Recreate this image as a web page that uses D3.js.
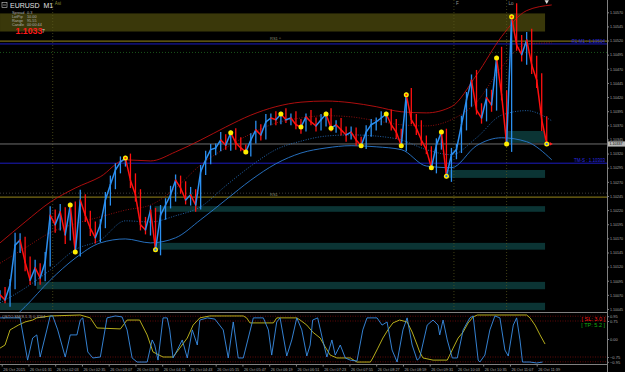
<!DOCTYPE html>
<html>
<head>
<meta charset="utf-8">
<script src="https://cdn.jsdelivr.net/npm/d3@7"></script>
<style>
html, body { margin: 0; padding: 0; background: #000; }
svg { display: block; font-family: "Liberation Sans", Arial, sans-serif; }
</style>
</head>
<body>
<div id="chart"></div>
<script>
// EURUSD M1, 26 Oct 2015 - times are minutes since midnight
var priceStart = 57, priceStep = 6;
var closes = [1.10070,1.10061,1.10088,1.10158,1.10167,1.10128,1.10096,1.10118,1.10100,1.10128,
  1.10211,1.10194,1.10217,1.10176,1.10229,1.10146,1.10238,1.10211,1.10188,1.10171,
  1.10194,1.10238,1.10265,1.10291,1.10305,1.10312,1.10273,1.10247,1.10194,1.10185,
  1.10220,1.10150,1.10211,1.10229,1.10247,1.10273,1.10259,1.10238,1.10247,1.10229,
  1.10288,1.10309,1.10327,1.10330,1.10344,1.10335,1.10357,1.10339,1.10330,1.10323,
  1.10344,1.10362,1.10353,1.10376,1.10383,1.10380,1.10390,1.10380,1.10383,1.10371,
  1.10367,1.10385,1.10376,1.10369,1.10380,1.10390,1.10365,1.10371,1.10362,1.10353,
  1.10358,1.10344,1.10334,1.10358,1.10371,1.10376,1.10383,1.10390,1.10371,1.10358,
  1.10334,1.10424,1.10380,1.10365,1.10344,1.10327,1.10295,1.10335,1.10358,1.10280,
  1.10318,1.10327,1.10371,1.10415,1.10450,1.10397,1.10383,1.10419,1.10406,1.10489,
  1.10424,1.10337,1.10562,1.10512,1.10495,1.10521,1.10477,1.10450,1.10380,1.10337];
// wick extension above / below each bar, in points (0.00001)
var wickUp = [8,14,10,22,12,6,10,14,8,18, 16,10,14,8,4,6,18,10,8,12, 10,14,16,12,10,4,8,12,10,14,
  8,4,18,12,16,10,8,12,14,10, 12,16,10,8,14,10,4,8,10,6, 12,16,10,14,8,12,4,10,8,12,
  10,6,12,8,10,4,10,8,12,6, 10,8,6,12,10,8,12,4,8,10, 6,4,12,10,14,8,6,12,4,6,
  12,10,16,14,10,18,12,16,14,4, 20,8,4,24,18,14,20,16,12,6];
var wickDown = [10,6,12,8,14,16,8,10,12,6, 8,14,10,16,10,4,8,12,14,10, 8,6,10,8,6,8,14,12,10,8,
  10,4,10,8,6,12,10,8,10,12, 8,6,8,10,6,8,10,12,6,4, 8,6,10,8,6,10,8,6,10,8,
  12,8,6,10,8,12,6,8,10,12, 8,10,4,6,8,10,6,8,10,12, 4,10,8,12,10,8,4,10,8,4,
  10,8,6,10,12,8,10,6,12,10, 10,4,14,10,12,18,16,14,20,4];

// zigzag swing points (index into closes)
var zigzag = [14,15,25,31,46,49,56,60,65,66,72,77,80,81,86,88,89,99,101,102,109];
var zigzagMajor = [25,31,81,89,102,109];

// envelope bands
var bandStart = 57, bandStep = 30;
var bandUpper = [1.10162,1.10199,1.10234,1.10259,1.10279,1.10309,1.10307,1.10323,1.10344,1.10367,1.10388,1.10403,
  1.10411,1.10413,1.10410,1.10403,1.10394,1.10392,1.10403,1.10459,1.10527,1.10573,1.10583];
var bandUpperMid = [1.10126,1.10153,1.10180,1.10196,1.10208,1.10220,1.10229,1.10259,1.10300,1.10330,1.10355,1.10374,
  1.10383,1.10387,1.10385,1.10378,1.10371,1.10369,1.10380,1.10411,1.10473,1.10514,1.10516];
var bandLowerMid = [1.10056,1.10082,1.10114,1.10150,1.10167,1.10201,1.10199,1.10210,1.10226,1.10263,1.10298,1.10327,
  1.10342,1.10351,1.10353,1.10351,1.10344,1.10327,1.10318,1.10348,1.10388,1.10396,1.10378];
var bandLower = [1.10008,1.10049,1.10096,1.10135,1.10162,1.10169,1.10162,1.10171,1.10203,1.10238,1.10273,1.10302,
  1.10321,1.10330,1.10334,1.10332,1.10327,1.10298,1.10295,1.10334,1.10348,1.10341,1.10309];

// oscillator [time, value]
var oscBlue = [[57,0.88],[69,0.88],[81,0.88],[90,-0.88],[96,0.04],[101,0.17],[105,-0.75],[113,0.38],[117,0.96],[120,0.96],
  [126,0.38],[135,-0.75],[141,0.17],[149,0.17],[153,0.79],[156,0.88],[162,-0.54],[168,-0.79],[177,-0.75],[185,0.88],
  [195,0.96],[203,0.92],[209,0.38],[215,-0.79],[221,-0.96],[233,-0.96],[239,-0.04],[242,-0.25],[246,-0.88],[252,0.88],
  [257,0.88],[260,0.38],[264,-0.79],[269,-0.46],[275,-0.04],[281,-0.79],[287,0.38],[293,-0.25],[296,0.79],[305,0.88],
  [314,0.83],[324,0.38],[330,-0.79],[336,0.71],[342,-0.79],[348,-0.79],[360,0.88],[372,0.88],[378,0.38],[382,-0.67],
  [388,0.71],[392,0.88],[400,-0.71],[406,-0.04],[412,0.88],[418,0.38],[424,-0.71],[428,-0.25],[431,0.79],[437,0.88],
  [443,-0.04],[448,-0.75],[454,-0.04],[458,-0.67],[464,-0.25],[470,-0.79],[476,-0.88],[484,-0.92],[491,0.38],[496,0.88],
  [508,0.88],[514,0.58],[520,0.71],[526,-0.46],[532,-0.96],[539,0.38],[544,0.88],[550,-0.25],[556,-0.88],[559,-0.79],
  [568,0.58],[575,0.79],[581,0.58],[583,0.17],[587,0.79],[592,-0.04],[598,-0.79],[604,-0.79],[611,0.38],[619,0.88],
  [623,0.96],[629,-0.88],[631,-0.96],[637,-0.67],[643,0.38],[649,0.96],[655,0.88],[661,-0.46],[665,-0.71],[671,0.58],
  [675,0.88],[679,-0.04],[682,-0.96],[691,-0.96],[699,-1.0],[706,-0.96]];
var oscYellow = [[57,-0.38],[63,-0.25],[69,0.38],[73,0.46],[79,0.58],[87,0.71],[96,0.79],[101,0.88],[117,0.96],[153,1.0],
  [165,0.88],[173,0.46],[201,0.42],[209,0.79],[224,0.79],[233,0.17],[240,-0.54],[252,-0.75],[264,-0.75],[272,-0.38],
  [281,0.04],[288,0.58],[296,0.88],[308,0.96],[348,0.96],[352,0.88],[356,0.67],[384,0.67],[388,0.88],[412,0.88],
  [416,0.79],[424,0.58],[431,0.29],[440,0.04],[446,-0.33],[452,-0.67],[460,-0.79],[476,-0.79],[484,-0.96],[500,-0.96],
  [503,-0.79],[509,-0.38],[515,0.04],[521,0.38],[527,0.67],[535,0.79],[544,0.71],[550,0.29],[556,-0.25],[559,-0.54],
  [563,-0.79],[575,-0.88],[592,-0.88],[595,-0.67],[599,-0.38],[605,0.04],[611,0.29],[617,0.67],[623,0.92],[628,1.0],
  [687,1.0],[691,0.88],[697,0.58],[703,0.17],[709,-0.21]];
var oscLevels = [0.95, 0.75, -0.75, -0.95];
var oscTicks = [0.95, 0.75, 0, -0.75, -0.95];

// levels and zones
var lastPrice = 1.10337;
var oliveLevels = [1.10519, 1.10243];
var blueLevels = [1.10514, 1.10303];
var blueLevelNames = ["R1 M1 : 1.10514", "TM-S : 1.10303"];
var greenDotLevels = [1.10499];
var grayDotLevels = [1.10250];
var rsLabels = [[380, 1.10519, "RS1 ^"], [380, 1.10243, "RS1"]];
var sessionZone = [57, 709, 1.10536, 1.10568];
var tealZones = [[661,709,1.10339,1.10360],[590,709,1.10277,1.10291],[242,709,1.10217,1.10227],
  [242,709,1.10150,1.10162],[101,709,1.10080,1.10093],[57,709,1.10043,1.10056]];
var sessionTimes = [120, 600, 663];
var sessionNames = ["Asi", "F", "Lo"];

// axis ticks
var priceTicks = [1.10570,1.10545,1.10520,1.10495,1.10470,1.10445,1.10420,1.10395,1.10370,1.10345,1.10320,
  1.10295,1.10270,1.10245,1.10220,1.10195,1.10170,1.10145,1.10120,1.10095,1.10070,1.10045];
var timeTicks = [59,91,123,155,187,219,251,283,315,347,379,411,443,475,507,539,571,603,635,667,699];
var timeLabels = ["26 Oct 2015","26 Oct 01:31","26 Oct 02:03","26 Oct 02:35","26 Oct 03:07","26 Oct 03:39",
  "26 Oct 04:11","26 Oct 04:43","26 Oct 05:15","26 Oct 05:47","26 Oct 06:19","26 Oct 06:51","26 Oct 07:23",
  "26 Oct 07:55","26 Oct 08:27","26 Oct 08:59","26 Oct 09:31","26 Oct 10:03","26 Oct 10:35","26 Oct 11:07","26 Oct 11:39"];

var infoLabels = ["Spread", "LotPip", "Range", "Candle"];
var infoValues = ["0.3", "10.00", "95.55", "00:00:44"];

// ---- layout ----
var W = 625, H = 372, axisX = 607;
var mainBottom = 312, oscTop = 313, oscBottom = 364;

var x = d3.scaleLinear().domain([59, 699]).range([1.7, 536.7]);
var y = d3.scaleLinear().domain([1.10045, 1.10570]).range([309, 12.3]);
var yo = d3.scaleLinear().domain([-1, 1]).range([363, 315]);

var svg = d3.select("#chart").append("svg").attr("width", W).attr("height", H);
svg.append("rect").attr("width", W).attr("height", H).attr("fill", "#000");

var defs = svg.append("defs");
defs.append("clipPath").attr("id", "clipMain").append("rect")
    .attr("x", 0).attr("y", 0).attr("width", axisX).attr("height", mainBottom);
defs.append("clipPath").attr("id", "clipOsc").append("rect")
    .attr("x", 0).attr("y", oscTop).attr("width", axisX).attr("height", oscBottom - oscTop);

var main = svg.append("g").attr("clip-path", "url(#clipMain)");

// session box and zones
main.append("rect")
    .attr("x", x(sessionZone[0])).attr("width", x(sessionZone[1]) - x(sessionZone[0]))
    .attr("y", y(sessionZone[3])).attr("height", y(sessionZone[2]) - y(sessionZone[3]))
    .attr("fill", "#3a380a");
main.selectAll(".zone").data(tealZones).enter().append("rect")
    .attr("x", function(d) { return x(d[0]); })
    .attr("width", function(d) { return x(d[1]) - x(d[0]); })
    .attr("y", function(d) { return y(d[3]); })
    .attr("height", function(d) { return y(d[2]) - y(d[3]); })
    .attr("fill", "#0b3434");

// session verticals
main.selectAll(".sess").data(sessionTimes).enter().append("line")
    .attr("x1", function(d) { return x(d); }).attr("x2", function(d) { return x(d); })
    .attr("y1", 0).attr("y2", mainBottom)
    .attr("stroke", "#5a5a20").attr("stroke-width", 0.7).attr("stroke-dasharray", "1,2");
svg.selectAll(".sessName").data(sessionNames).enter().append("text")
    .attr("x", function(d, i) { return x(sessionTimes[i]) + 2; }).attr("y", 5)
    .attr("font-size", 4.5).attr("fill", function(d, i) { return i ? "#9a9a9a" : "#8a8a30"; })
    .text(function(d) { return d; });

// horizontal levels
function hline(p, color, w, dash) {
  main.append("line").attr("x1", 0).attr("x2", axisX)
      .attr("y1", y(p)).attr("y2", y(p))
      .attr("stroke", color).attr("stroke-width", w)
      .attr("stroke-dasharray", dash || null);
}
oliveLevels.forEach(function(p) { hline(p, "#7a6c14", 1.2); });
blueLevels.forEach(function(p) { hline(p, "#1c1cc0", 1); });
greenDotLevels.forEach(function(p) { hline(p, "#1f6a1f", 0.8, "1,2"); });
grayDotLevels.forEach(function(p) { hline(p, "#4a4a4a", 0.8, "1,2"); });
hline(lastPrice, "#8c8c8c", 0.8);

blueLevelNames.forEach(function(t, i) {
  main.append("text").attr("x", axisX - 2).attr("y", y(blueLevels[i]) - 1)
      .attr("text-anchor", "end").attr("font-size", 4.5).attr("fill", "#2a2ae0").text(t);
});
rsLabels.forEach(function(d) {
  main.append("text").attr("x", x(d[0])).attr("y", y(d[1]) - 1)
      .attr("font-size", 4).attr("fill", "#8a8a70").text(d[2]);
});

// bands
var bandLine = d3.line()
    .x(function(d, i) { return x(bandStart + i * bandStep); })
    .y(function(d) { return y(d); })
    .curve(d3.curveMonotoneX);
main.append("path").datum(bandUpper).attr("d", bandLine)
    .attr("fill", "none").attr("stroke", "#c01010").attr("stroke-width", 0.9);
main.append("path").datum(bandUpperMid).attr("d", bandLine)
    .attr("fill", "none").attr("stroke", "#b01010").attr("stroke-width", 0.8).attr("stroke-dasharray", "1,1.5");
main.append("path").datum(bandLowerMid).attr("d", bandLine)
    .attr("fill", "none").attr("stroke", "#2a7ad0").attr("stroke-width", 0.8).attr("stroke-dasharray", "1,1.5");
main.append("path").datum(bandLower).attr("d", bandLine)
    .attr("fill", "none").attr("stroke", "#2a7ad0").attr("stroke-width", 0.9);

// price: closes joined, plus a high-low bar at each step, coloured by direction
var pts = closes.map(function(c, i) {
  var prev = i ? closes[i - 1] : c;
  return { t: priceStart + i * priceStep, c: c, up: c >= prev,
           hi: Math.max(c, prev) + wickUp[i] * 1e-5, lo: Math.min(c, prev) - wickDown[i] * 1e-5 };
});
function dirColor(d) { return d.up ? "#2b8ff0" : "#ff1010"; }
main.selectAll(".bar").data(pts).enter().append("line")
    .attr("x1", function(d) { return x(d.t); }).attr("x2", function(d) { return x(d.t); })
    .attr("y1", function(d) { return y(d.hi); }).attr("y2", function(d) { return y(d.lo); })
    .attr("stroke", dirColor).attr("stroke-width", 1.3);
main.selectAll(".seg").data(pts.slice(1)).enter().append("line")
    .attr("x1", function(d, i) { return x(pts[i].t); })
    .attr("y1", function(d, i) { return y(pts[i].c); })
    .attr("x2", function(d) { return x(d.t); })
    .attr("y2", function(d) { return y(d.c); })
    .attr("stroke", dirColor)
    .attr("stroke-width", 1.5).attr("stroke-linecap", "round");

// zigzag dots
main.selectAll(".zz").data(zigzag).enter().append("circle")
    .attr("cx", function(d) { return x(pts[d].t); })
    .attr("cy", function(d) { return y(pts[d].c); })
    .attr("r", 2.5).attr("fill", "#ffee00");
main.selectAll(".zzc").data(zigzagMajor).enter().append("circle")
    .attr("cx", function(d) { return x(pts[d].t); })
    .attr("cy", function(d) { return y(pts[d].c); })
    .attr("r", 1.1)
    .attr("fill", function(d) { return pts[d].up ? "#ff3010" : "#2b6ff0"; });
var lastPt = pts[pts.length - 1];
main.append("path")
    .attr("d", d3.symbol().type(d3.symbolTriangle).size(6))
    .attr("transform", "translate(" + (x(lastPt.t) + 4) + "," + y(lastPt.c) + ") rotate(90)")
    .attr("fill", "#ff2020");
svg.append("path")
    .attr("d", d3.symbol().type(d3.symbolTriangle).size(8))
    .attr("transform", "translate(" + x(lastPt.t) + ",1.5) rotate(180)")
    .attr("fill", "#ddd");

// info panel
svg.append("rect").attr("x", 2).attr("y", 2.5).attr("width", 5).attr("height", 5)
    .attr("fill", "none").attr("stroke", "#ccc").attr("stroke-width", 0.6);
svg.append("line").attr("x1", 3).attr("x2", 6).attr("y1", 5).attr("y2", 5).attr("stroke", "#ccc").attr("stroke-width", 0.6);
svg.append("text").attr("x", 10).attr("y", 8.2).attr("font-size", 7).attr("fill", "#e0e0e0")
    .attr("xml:space", "preserve").text("EURUSD  M1");
infoLabels.forEach(function(t, i) {
  svg.append("text").attr("x", 12).attr("y", 13.5 + i * 4).attr("font-size", 3.8).attr("fill", "#b0b0b0").text(t);
  svg.append("text").attr("x", 27).attr("y", 13.5 + i * 4).attr("font-size", 3.8).attr("fill", "#b0b0b0").text(infoValues[i]);
});
svg.append("text").attr("x", 15.5).attr("y", 33.8).attr("font-size", 8.8).attr("font-weight", "bold")
    .attr("fill", "#ff1a1a").text(d3.format(".4f")(Math.floor(lastPrice * 10000) / 10000));
svg.append("text").attr("x", 42).attr("y", 33.2).attr("font-size", 5).attr("fill", "#d0d0d0")
    .text(String(Math.round(lastPrice * 100000) % 10));

// oscillator pane
var osc = svg.append("g").attr("clip-path", "url(#clipOsc)");
osc.selectAll(".lvl").data(oscLevels).enter().append("line")
    .attr("x1", 0).attr("x2", axisX)
    .attr("y1", function(d) { return yo(d); }).attr("y2", function(d) { return yo(d); })
    .attr("stroke", "#7a0a0a").attr("stroke-width", 0.8).attr("stroke-dasharray", "1,1.5");
var oscLine = d3.line().x(function(d) { return x(d[0]); }).y(function(d) { return yo(d[1]); });
osc.append("path").datum(oscYellow).attr("d", oscLine)
    .attr("fill", "none").attr("stroke", "#c8bf1e").attr("stroke-width", 0.9);
osc.append("path").datum(oscBlue).attr("d", oscLine)
    .attr("fill", "none").attr("stroke", "#3a8ee8").attr("stroke-width", 0.9);
svg.append("text").attr("x", 2).attr("y", 318).attr("font-size", 4).attr("fill", "#a0a0a0")
    .text("QSTO SM(8,1,3) 0.3264");
svg.append("text").attr("x", 605).attr("y", 320.5).attr("text-anchor", "end").attr("font-size", 5.5)
    .attr("fill", "#ff1a1a").text("[ SL: 3.0 ]");
svg.append("text").attr("x", 605).attr("y", 326.5).attr("text-anchor", "end").attr("font-size", 5.5)
    .attr("fill", "#10b010").text("[ TP: 5.2 ]");

// pane frame
svg.append("line").attr("x1", 0).attr("x2", axisX).attr("y1", mainBottom + 0.5).attr("y2", mainBottom + 0.5)
    .attr("stroke", "#808080").attr("stroke-width", 1);
svg.append("line").attr("x1", 0).attr("x2", axisX).attr("y1", oscBottom + 0.5).attr("y2", oscBottom + 0.5)
    .attr("stroke", "#808080").attr("stroke-width", 1);

// axes
function styleAxis(g) {
  g.select(".domain").attr("stroke", "#808080");
  g.selectAll(".tick line").attr("stroke", "#808080");
  g.selectAll(".tick text").attr("fill", "#a8a8a8").attr("font-size", 4)
      .attr("font-family", "'Liberation Sans', Arial, sans-serif");
}
var ya = svg.append("g").attr("transform", "translate(" + (axisX + 0.5) + ",0)")
    .call(d3.axisRight(y).tickValues(priceTicks).tickFormat(d3.format(".5f")).tickSize(1.5).tickPadding(1))
    .call(styleAxis);
ya.select(".domain").attr("d", "M0,0V" + H);
ya.selectAll(".tick text").attr("textLength", 13).attr("lengthAdjust", "spacingAndGlyphs");
var yoa = svg.append("g").attr("transform", "translate(" + (axisX + 0.5) + ",0)")
    .call(d3.axisRight(yo).tickValues(oscTicks).tickFormat(d3.format(".2f")).tickSize(1.5).tickPadding(1))
    .call(styleAxis);
yoa.select(".domain").remove();
var xa = svg.append("g").attr("transform", "translate(0," + (oscBottom + 0.5) + ")")
    .call(d3.axisBottom(x).tickValues(timeTicks).tickFormat(function(d, i) { return timeLabels[i]; })
      .tickSize(2).tickPadding(0.5))
    .call(styleAxis);
xa.select(".domain").remove();
xa.selectAll(".tick text").attr("text-anchor", "start").attr("dx", 1).attr("dy", "0.9em")
    .attr("textLength", 22).attr("lengthAdjust", "spacingAndGlyphs");

// current price tag
svg.append("rect").attr("x", axisX + 1).attr("y", y(lastPrice) - 2.6).attr("width", W - axisX - 1).attr("height", 5.2)
    .attr("fill", "#b8b8b8");
svg.append("text").attr("x", axisX + 2.5).attr("y", y(lastPrice) + 1.5).attr("font-size", 4).attr("fill", "#000")
    .attr("textLength", 13).attr("lengthAdjust", "spacingAndGlyphs")
    .text(d3.format(".5f")(lastPrice));
</script>
</body>
</html>
